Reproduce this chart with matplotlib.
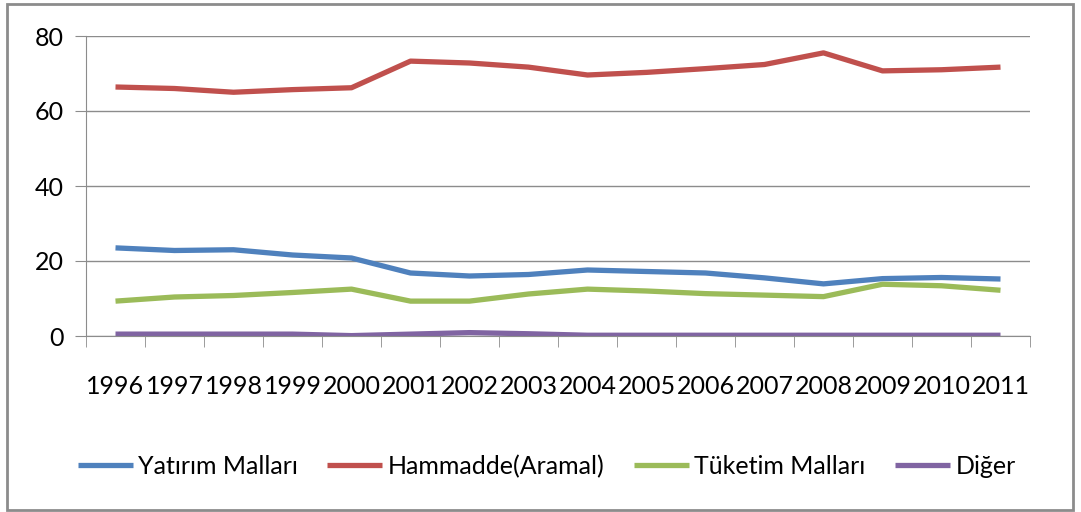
import matplotlib.pyplot as plt
from matplotlib.patches import Rectangle

plt.rcParams['font.family'] = ['Lato', 'DejaVu Sans']

years = [str(y) for y in range(1996, 2012)]
yatirim = [23.5, 22.8, 23.0, 21.6, 20.8, 16.8, 16.0, 16.4, 17.6, 17.2, 16.8, 15.5, 13.9, 15.3, 15.6, 15.2]
hammadde = [66.4, 66.0, 65.0, 65.7, 66.2, 73.3, 72.8, 71.7, 69.6, 70.3, 71.3, 72.4, 75.5, 70.7, 71.0, 71.7]
tuketim = [9.3, 10.4, 10.8, 11.6, 12.5, 9.3, 9.3, 11.2, 12.5, 12.0, 11.3, 10.9, 10.5, 13.8, 13.4, 12.2]
diger = [0.5, 0.5, 0.5, 0.5, 0.1, 0.5, 0.9, 0.6, 0.2, 0.2, 0.2, 0.2, 0.2, 0.2, 0.2, 0.2]

series = [
    ("Yatırım Malları", yatirim, "#4F81BD"),
    ("Hammadde(Aramal)", hammadde, "#C0504D"),
    ("Tüketim Malları", tuketim, "#9BBB59"),
    ("Diğer", diger, "#8064A2"),
]

fig = plt.figure(figsize=(10.81, 5.12), dpi=100)
ax = fig.add_axes([86 / 1081, 1 - 336 / 512, 944 / 1081, 300 / 512])

x = range(len(years))
for name, vals, col in series:
    ax.plot(x, vals, color=col, lw=3.8, label=name, solid_capstyle='butt')

ax.set_xlim(-0.5, len(years) - 0.5)
ax.set_ylim(0, 80)
ax.set_yticks([0, 20, 40, 60, 80])
ax.grid(axis='y', color='#8c8c8c', lw=1)
ax.set_axisbelow(True)

for s in ['top', 'right']:
    ax.spines[s].set_visible(False)
for s in ['left', 'bottom']:
    ax.spines[s].set_color('#8c8c8c')

ax.set_xticks(list(x))
ax.set_xticklabels(years)
ax.set_xticks([i - 0.5 for i in range(len(years) + 1)], minor=True)
ax.tick_params(axis='x', which='major', length=0, pad=28, labelsize=18, colors='#000000')
ax.tick_params(axis='x', which='minor', length=8, color='#8c8c8c', direction='out')
ax.tick_params(axis='y', length=8, color='#8c8c8c', labelsize=18, pad=8)

ax.legend(loc='upper center', bbox_to_anchor=(0.488, -0.32), ncol=4, frameon=False,
          fontsize=18, handlelength=2.2, handletextpad=0.2, columnspacing=1.2)

fig.patches.append(Rectangle((7 / 1081, 2 / 512), 1066 / 1081, 506 / 512, transform=fig.transFigure,
                             fill=False, edgecolor='#8c8c8c', lw=2))

fig.savefig('out.png', dpi=100)
